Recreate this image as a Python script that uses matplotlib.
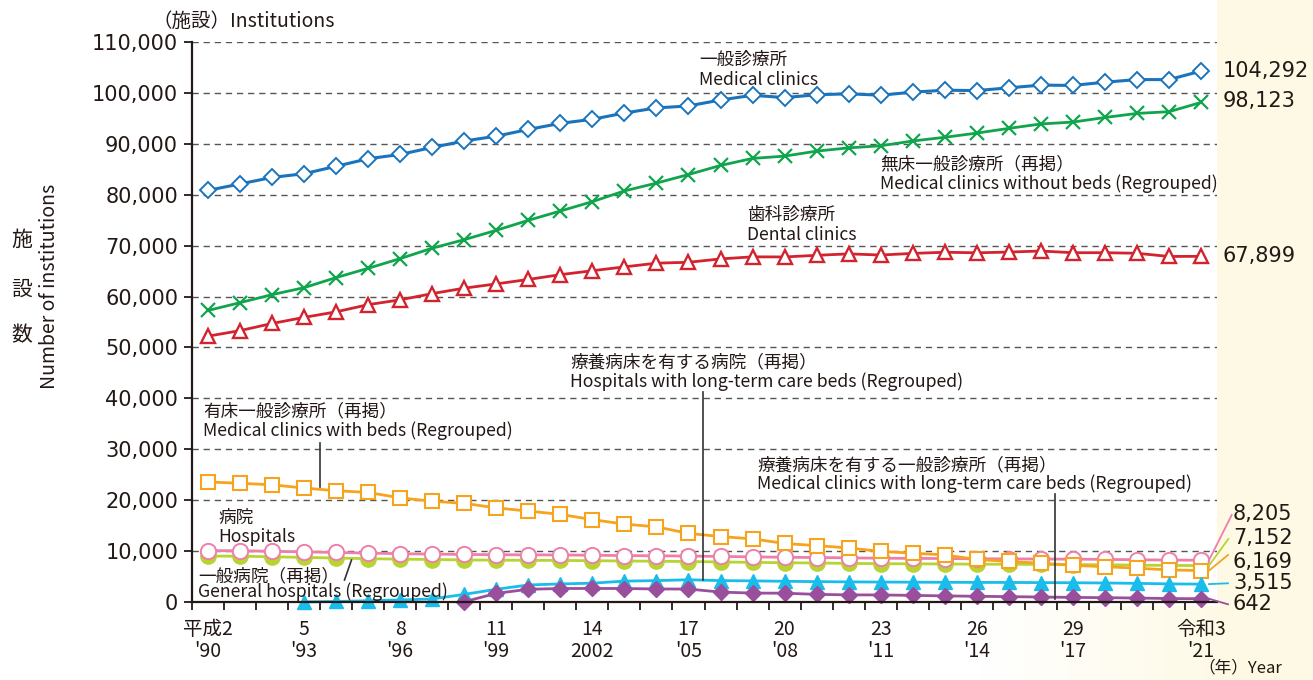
import numpy as np
import matplotlib
matplotlib.use("Agg")
import matplotlib.pyplot as plt
from matplotlib.lines import Line2D
from matplotlib.ticker import FixedLocator, FuncFormatter

# ---------------- data ----------------
years = list(range(1990, 2022))

clinics = [80852, 82118, 83401, 84128, 85588, 87069, 87909, 89292, 90556, 91500,
           92824, 94019, 94819, 96050, 97051, 97442, 98609, 99532, 99083, 99635,
           99824, 99547, 100152, 100528, 100461, 100995, 101529, 101471, 102105,
           102616, 102612, 104292]

clinics_no_beds = [57263, 58802, 60376, 61745, 63730, 65549, 67457, 69500, 71174, 73013,
                   74971, 76801, 78641, 80750, 82286, 83965, 85751, 87133, 87583, 88563,
                   89204, 89613, 90556, 91279, 92106, 93034, 93900, 94269, 95171,
                   95972, 96309, 98123]

dental = [52216, 53310, 54711, 55906, 57000, 58407, 59357, 60579, 61651, 62484,
          63361, 64297, 65073, 65828, 66557, 66732, 67392, 67798, 67779, 68097,
          68384, 68156, 68474, 68701, 68592, 68737, 68940, 68609, 68613,
          68500, 67874, 67899]

clinics_with_beds = [23589, 23316, 23025, 22383, 21858, 21520, 20452, 19792, 19382, 18487,
                     17853, 17218, 16178, 15300, 14765, 13477, 12858, 12399, 11500, 11072,
                     10620, 9934, 9596, 9249, 8355, 7961, 7629, 7202, 6934,
                     6644, 6303, 6169]

hospitals = [10096, 10066, 9963, 9844, 9731, 9606, 9490, 9413, 9333, 9286,
             9266, 9239, 9187, 9122, 9077, 9026, 8943, 8862, 8794, 8739,
             8670, 8605, 8565, 8540, 8493, 8480, 8442, 8412, 8372,
             8300, 8238, 8205]

general_hospitals = [9022, 8994, 8886, 8757, 8640, 8508, 8419, 8346, 8260, 8214,
                     8189, 8164, 8116, 8051, 8005, 7952, 7866, 7785, 7714, 7655,
                     7587, 7528, 7493, 7474, 7426, 7416, 7380, 7353, 7314,
                     7246, 7179, 7152]

ltc_hospital_years = list(range(1993, 2022))
ltc_hospitals = [20, 100, 250, 400, 600, 1500, 2500, 3350, 3550, 3700,
                 4100, 4200, 4374, 4200, 4150, 4067, 4000, 3950, 3920, 3890,
                 3870, 3848, 3840, 3810, 3781, 3736, 3662, 3554, 3515]

ltc_clinic_years = list(range(1998, 2022))
ltc_clinics = [50, 1700, 2500, 2650, 2663, 2650, 2560, 2544, 1950, 1750,
               1728, 1500, 1400, 1385, 1300, 1200, 1125, 1050, 980, 902,
               850, 780, 680, 642]

tick_years = [1990, 1993, 1996, 1999, 2002, 2005, 2008, 2011, 2014, 2017, 2021]
tick_labels = ["平成2\n'90", "5\n'93", "8\n'96", "11\n'99", "14\n2002", "17\n'05",
               "20\n'08", "23\n'11", "26\n'14", "29\n'17", "令和3\n'21"]
yticks = list(range(0, 110001, 10000))

end_labels = ["104,292", "98,123", "67,899", "8,205", "7,152", "6,169", "3,515", "642"]

# ---------------- style ----------------
TXT = "#231815"
BLUE = "#1a74bd"
GREEN = "#10a44c"
RED = "#d2232f"
ORANGE = "#f6a31e"
PINK = "#ee7fa9"
LIME = "#b8d433"
CYAN = "#19bdeb"
PURPLE = "#9a4f9d"
CREAM = (254 / 255, 249 / 255, 228 / 255)

JP = ["Noto Sans CJK JP", "DejaVu Sans"]
NUM = ["DejaVu Sans", "Noto Sans CJK JP"]
plt.rcParams["font.family"] = JP

W, H = 1313, 680
fig = plt.figure(figsize=(W / 100, H / 100), dpi=100, facecolor="white")


def fx(x):
    return x / W


def fy(y):
    return 1 - y / H


# background (cream strip on the right, fading in at bottom right)
bg = fig.add_axes([0, 0, 1, 1], zorder=-10)
xx, yy = np.meshgrid(np.arange(W), np.arange(H))
alpha = np.zeros((H, W))
alpha[:, 1217:] = 1.0
bottom = yy >= 606
alpha = np.where(bottom & (xx < 1217), np.clip((xx - 980) / 237.0, 0, 1) * 0.9, alpha)
img = np.zeros((H, W, 4))
img[..., 0], img[..., 1], img[..., 2] = CREAM
img[..., 3] = alpha
bg.imshow(img, aspect="auto", extent=[0, W, H, 0])
bg.set_xlim(0, W)
bg.set_ylim(H, 0)
bg.axis("off")

ax = fig.add_axes([fx(192), fy(602), (1217 - 192) / W, (602 - 42) / H])
ax.set_facecolor("white")
ax.set_xlim(1989.5, 2021.5)
ax.set_ylim(0, 110000)

for s in ["top", "right"]:
    ax.spines[s].set_visible(False)
for s in ["left", "bottom"]:
    ax.spines[s].set_linewidth(1.6)
    ax.spines[s].set_color(TXT)
    ax.spines[s].set_zorder(8)

ax.yaxis.set_major_locator(FixedLocator(yticks))
ax.yaxis.set_major_formatter(FuncFormatter(lambda v, p: f"{int(v):,}"))
ax.tick_params(axis="y", direction="out", length=6, width=1.3, color=TXT,
               labelsize=15, pad=4, labelcolor=TXT)
for lab in ax.get_yticklabels():
    lab.set_family(NUM)

ax.xaxis.set_major_locator(FixedLocator(tick_years))
ax.set_xticklabels(tick_labels, fontsize=14, color=TXT, linespacing=1.1)
ax.xaxis.set_minor_locator(FixedLocator([y + 0.5 for y in range(1989, 2021)]))
ax.tick_params(axis="x", which="major", length=0, pad=12)
ax.tick_params(axis="x", which="minor", direction="out", length=5.5, width=1.3, color=TXT)

ax.yaxis.grid(True, linestyle=(0, (4.5, 3.5)), color="#555555", lw=1.0)
ax.set_axisbelow(True)

# ---------------- series ----------------
ax.plot(years, general_hospitals, color=LIME, lw=2.0, marker="o", ms=11,
        mfc=LIME, mec=LIME, zorder=3, clip_on=False)
ax.plot(years, hospitals, color=PINK, lw=2.0, marker="o", ms=11,
        mfc="white", mec=PINK, mew=1.4, zorder=4, clip_on=False)
ax.plot(years, clinics_with_beds, color=ORANGE, lw=2.0, marker="s", ms=10,
        mfc="white", mec=ORANGE, mew=1.5, zorder=5, clip_on=False)
ax.plot(ltc_hospital_years, ltc_hospitals, color=CYAN, lw=2.0, marker="^", ms=10,
        mfc=CYAN, mec=CYAN, zorder=6, clip_on=False)
ax.plot(ltc_clinic_years, ltc_clinics, color=PURPLE, lw=2.0, marker="D", ms=8,
        mfc=PURPLE, mec=PURPLE, zorder=7, clip_on=False)
ax.plot(years, dental, color=RED, lw=2.0, marker="^", ms=10,
        mfc="white", mec=RED, mew=1.7, zorder=5, clip_on=False)
ax.plot(years, clinics_no_beds, color=GREEN, lw=2.0, marker="x", ms=10,
        mew=1.6, zorder=5, clip_on=False)
ax.plot(years, clinics, color=BLUE, lw=2.2, marker="D", ms=8.5,
        mfc="white", mec=BLUE, mew=1.4, zorder=5, clip_on=False)

# ---------------- end labels ----------------
top_lbl_y = [71, 101, 256]
for lab, y in zip(end_labels[:3], top_lbl_y):
    fig.text(fx(1223), fy(y), lab, fontsize=15, color=TXT, family=NUM,
             ha="left", va="center")

low_lbl_y = [514, 538, 562, 583, 604]
low_vals = [hospitals[-1], general_hospitals[-1], clinics_with_beds[-1],
            ltc_hospitals[-1], ltc_clinics[-1]]
low_cols = [PINK, LIME, ORANGE, CYAN, PURPLE]
lead_end = [(1231.7, 515), (1228.3, 539), (1228, 555), (1228, 583.3), (1228, 604.3)]
for lab, y, v, c, (ex, ey) in zip(end_labels[3:], low_lbl_y, low_vals, low_cols, lead_end):
    fig.text(fx(1233), fy(y), lab, fontsize=15, color=TXT, family=NUM,
             ha="left", va="center")
    # leader from last point to label
    x0_disp, y0_disp = ax.transData.transform((2021.25, v))
    x1_disp, y1_disp = ex, H - ey
    fig.add_artist(Line2D([x0_disp / W, x1_disp / W], [y0_disp / H, y1_disp / H],
                          transform=fig.transFigure, color=c, lw=1.3))

# ---------------- annotations ----------------
ANN = 12.7


def two_line(x, y1, y2, jp, en):
    fig.text(fx(x), fy(y1), jp, fontsize=ANN, color=TXT, ha="left", va="center")
    fig.text(fx(x), fy(y2), en, fontsize=ANN, color=TXT, ha="left", va="center")


two_line(699, 60, 80, "一般診療所", "Medical clinics")
two_line(880, 164, 184, "無床一般診療所（再掲）", "Medical clinics without beds (Regrouped)")
two_line(747, 215, 235, "歯科診療所", "Dental clinics")
two_line(570, 362, 382, "療養病床を有する病院（再掲）", "Hospitals with long-term care beds (Regrouped)")
two_line(203, 411, 431, "有床一般診療所（再掲）", "Medical clinics with beds (Regrouped)")
two_line(757, 465, 484, "療養病床を有する一般診療所（再掲）",
         "Medical clinics with long-term care beds (Regrouped)")
two_line(218, 518, 537, "病院", "Hospitals")
two_line(198, 576, 592, "一般病院（再掲）", "General hospitals (Regrouped)")


def seg(x0, y0, x1, y1):
    fig.add_artist(Line2D([fx(x0), fx(x1)], [fy(y0), fy(y1)], transform=fig.transFigure,
                          color="#333333", lw=1.2, zorder=9))


seg(703, 392, 703, 580)
seg(320, 443, 320, 487)
seg(1055, 494, 1055, 599)
seg(351.5, 560, 344.5, 580)

# ---------------- axis titles ----------------
fig.text(fx(153), fy(21), "（施設）Institutions", fontsize=14, color=TXT,
         ha="left", va="center")
for ch, y in zip("施設数", [240, 290, 335]):
    fig.text(fx(22), fy(y), ch, fontsize=15, color=TXT, ha="center", va="center")
fig.text(fx(50), fy(286), "Number of institutions", fontsize=14, color=TXT,
         ha="center", va="center", rotation=90)
fig.text(fx(1198), fy(668), "（年）Year", fontsize=12, color=TXT,
         ha="left", va="center")

fig.savefig("out.png", dpi=100, facecolor="white")
